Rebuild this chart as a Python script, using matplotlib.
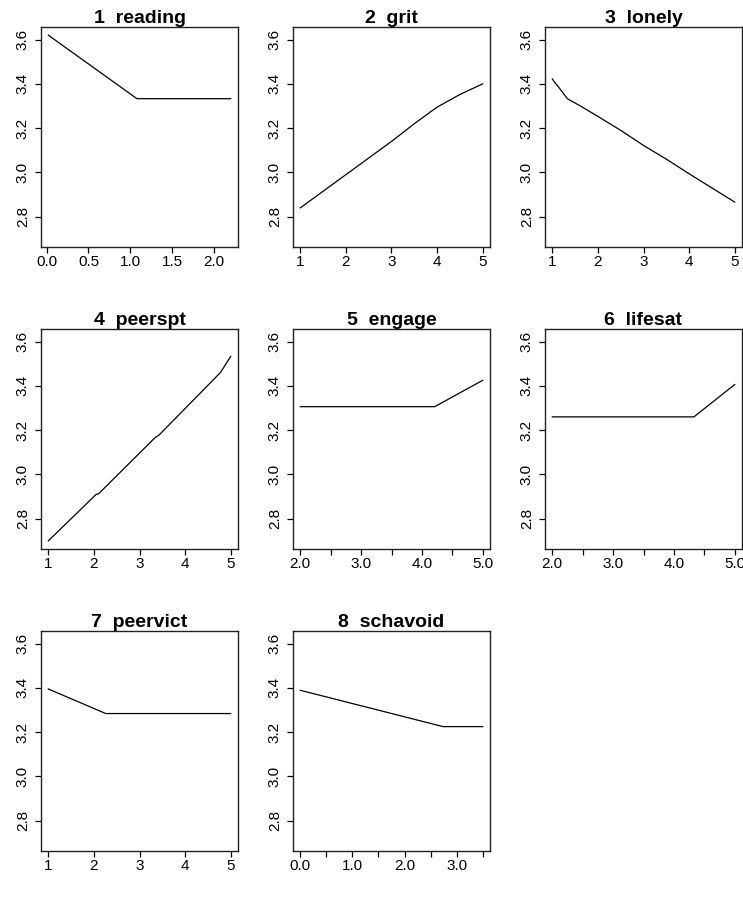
import matplotlib.pyplot as plt
import numpy as np

plt.rcParams['font.family'] = ['Liberation Sans', 'DejaVu Sans']

# partial dependence curves
names = ['reading', 'grit', 'lonely', 'peerspt', 'engage', 'lifesat', 'peervict', 'schavoid']

reading_x = [0.02, 1.08, 2.2]
reading_y = [3.62, 3.333, 3.333]

grit_x = [1, 1.5, 2, 2.5, 3, 3.5, 4, 4.5, 5]
grit_y = [2.84, 2.915, 2.99, 3.065, 3.14, 3.22, 3.295, 3.352, 3.40]

lonely_x = [1.0, 1.06, 1.14, 1.33, 1.6, 2, 2.5, 3, 3.5, 4, 4.5, 5]
lonely_y = [3.422, 3.405, 3.385, 3.333, 3.302, 3.253, 3.19, 3.122, 3.06, 2.994, 2.93, 2.866]

peerspt_x = [1.0, 2.05, 2.1, 3.35, 3.42, 4.75, 4.8, 5.0]
peerspt_y = [2.70, 2.910, 2.912, 3.168, 3.176, 3.455, 3.468, 3.533]

engage_x = [2.0, 4.21, 5.0]
engage_y = [3.306, 3.306, 3.425]

lifesat_x = [2.0, 4.33, 5.0]
lifesat_y = [3.26, 3.26, 3.406]

peervict_x = [1.0, 2.26, 5.0]
peervict_y = [3.395, 3.284, 3.284]

schavoid_x = [0.0, 2.74, 3.5]
schavoid_y = [3.389, 3.225, 3.225]

xs = [reading_x, grit_x, lonely_x, peerspt_x, engage_x, lifesat_x, peervict_x, schavoid_x]
ys = [reading_y, grit_y, lonely_y, peerspt_y, engage_y, lifesat_y, peervict_y, schavoid_y]

y_ticks = [2.8, 3.0, 3.2, 3.4, 3.6]

# x ticks per panel, and which of them get a label (R drops crowded ones)
x_ticks = [
    [0.0, 0.5, 1.0, 1.5, 2.0],
    [1, 2, 3, 4, 5],
    [1, 2, 3, 4, 5],
    [1, 2, 3, 4, 5],
    [2.0, 2.5, 3.0, 3.5, 4.0, 4.5, 5.0],
    [2.0, 2.5, 3.0, 3.5, 4.0, 4.5, 5.0],
    [1, 2, 3, 4, 5],
    [0.0, 0.5, 1.0, 1.5, 2.0, 2.5, 3.0, 3.5],
]
x_labels = [
    ['0.0', '0.5', '1.0', '1.5', '2.0'],
    ['1', '2', '3', '4', '5'],
    ['1', '2', '3', '4', '5'],
    ['1', '2', '3', '4', '5'],
    ['2.0', '', '3.0', '', '4.0', '', '5.0'],
    ['2.0', '', '3.0', '', '4.0', '', '5.0'],
    ['1', '2', '3', '4', '5'],
    ['0.0', '', '1.0', '', '2.0', '', '3.0', ''],
]


def r_lim(lo, hi):
    # R's default 4% range extension
    r = hi - lo
    return lo - 0.04 * r, hi + 0.04 * r


all_y = np.concatenate([np.array(y) for y in ys])
ylim = r_lim(all_y.min(), all_y.max())

W, H = 743, 905
fig = plt.figure(figsize=(W / 100, H / 100), dpi=100)

col_left = [41, 293, 545]
row_top = [27, 329, 631]
bw, bh = 197, 220

for i, name in enumerate(names):
    r, c = divmod(i, 3)
    ax = fig.add_axes([col_left[c] / W, 1 - (row_top[r] + bh) / H, bw / W, bh / H])
    x = np.array(xs[i])
    ax.plot(x, ys[i], color='black', lw=0.9)
    ax.set_xlim(*r_lim(x.min(), x.max()))
    ax.set_ylim(*ylim)
    ax.set_xticks(x_ticks[i])
    ax.set_xticklabels(x_labels[i])
    ax.set_yticks(y_ticks)
    ax.set_yticklabels([f'{v:.1f}' for v in y_ticks], rotation=90, va='center')
    ax.tick_params(direction='out', length=4, width=0.9, labelsize=11, colors='black')
    ax.tick_params(axis='x', pad=1.5)
    ax.tick_params(axis='y', pad=4)
    for s in ax.spines.values():
        s.set_linewidth(1.0)
        s.set_color('#222222')
    ax.set_title(f'{i + 1}  {name}', fontsize=14, fontweight='bold', pad=3)

fig.savefig('out.png', dpi=100)
